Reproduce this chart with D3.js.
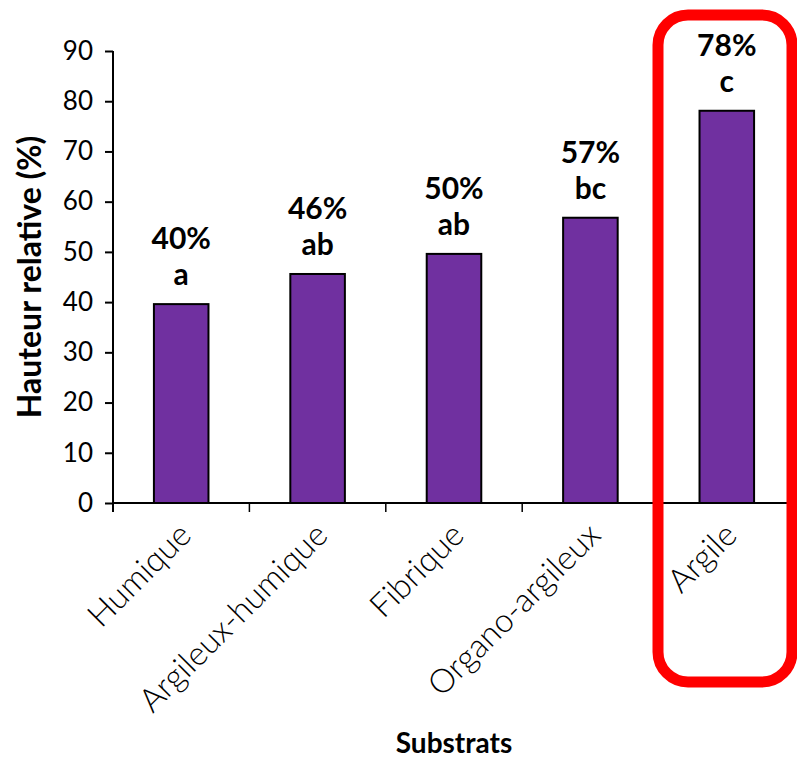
<!DOCTYPE html>
<html>
<head>
<meta charset="utf-8">
<script src="https://cdn.jsdelivr.net/npm/d3@7"></script>
<style>
  body { margin: 0; background: #fff; }
  svg text { font-family: Lato, "Open Sans", sans-serif; fill: #000; }
</style>
</head>
<body>
<div id="chart"></div>
<script>
// data
var categories = ["Humique", "Argileux-humique", "Fibrique", "Organo-argileux", "Argile"];
var values = [39.6, 45.6, 49.6, 56.8, 78.1];
var pctLabels = ["40%", "46%", "50%", "57%", "78%"];
var groupLetters = ["a", "ab", "ab", "bc", "c"];
var yTicks = [0, 10, 20, 30, 40, 50, 60, 70, 80, 90];

drawChart("#chart");

function drawChart(sel) {
  var width = 797, height = 762;
  var margin = { left: 113, right: 2, top: 51, bottom: 259 };
  var plotW = width - margin.left - margin.right;
  var plotH = height - margin.top - margin.bottom;

  var svg = d3.select(sel).append("svg")
    .attr("width", width)
    .attr("height", height);

  var x = d3.scaleBand()
    .domain(categories)
    .range([0, plotW])
    .padding(0);

  var y = d3.scaleLinear()
    .domain([0, 90])
    .range([plotH, 0]);

  var g = svg.append("g")
    .attr("transform", "translate(" + margin.left + "," + margin.top + ")");

  var barW = x.bandwidth() * 0.4;

  // bars
  g.selectAll(".bar")
    .data(values)
    .enter()
    .append("rect")
    .attr("class", "bar")
    .attr("x", function(d, i) { return x(categories[i]) + (x.bandwidth() - barW) / 2; })
    .attr("y", function(d) { return y(d); })
    .attr("width", barW)
    .attr("height", function(d) { return plotH - y(d); })
    .attr("fill", "#7030a0")
    .attr("stroke", "#000")
    .attr("stroke-width", 2);

  // y axis
  var yAxis = d3.axisLeft(y)
    .tickValues(yTicks)
    .tickSize(8)
    .tickSizeOuter(0)
    .tickPadding(12);

  var ya = g.append("g").call(yAxis);
  ya.select(".domain").remove();
  ya.selectAll(".tick line").attr("stroke", "#000").attr("stroke-width", 2);
  ya.selectAll(".tick text")
    .style("font-size", "26px")
    .style("font-weight", 400);

  // x axis line + ticks at band edges
  var edges = categories.map(function(c) { return x(c); }).concat([plotW]);
  g.append("line")
    .attr("x1", 0).attr("x2", plotW)
    .attr("y1", plotH).attr("y2", plotH)
    .attr("stroke", "#000").attr("stroke-width", 2);
  g.append("line")
    .attr("x1", 0).attr("x2", 0)
    .attr("y1", y(90)).attr("y2", plotH + 9)
    .attr("stroke", "#000").attr("stroke-width", 2);
  g.selectAll(".xtick")
    .data(edges)
    .enter()
    .append("line")
    .attr("class", "xtick")
    .attr("x1", function(d) { return d; })
    .attr("x2", function(d) { return d; })
    .attr("y1", plotH)
    .attr("y2", plotH + 9)
    .attr("stroke", "#000")
    .attr("stroke-width", 1.5);

  // rotated category labels
  g.selectAll(".xlab")
    .data(categories)
    .enter()
    .append("text")
    .attr("class", "xlab")
    .attr("transform", function(d) {
      return "translate(" + (x(d) + x.bandwidth() / 2 + 12) + "," + (plotH + 34) + ") rotate(-45)";
    })
    .attr("text-anchor", "end")
    .style("font-size", "33px")
    .style("font-weight", 300)
    .text(function(d) { return d; });

  // value labels
  g.selectAll(".pct")
    .data(values)
    .enter()
    .append("text")
    .attr("class", "pct")
    .attr("x", function(d, i) { return x(categories[i]) + x.bandwidth() / 2; })
    .attr("y", function(d) { return y(d) - 55; })
    .attr("text-anchor", "middle")
    .style("font-size", "30px")
    .style("font-weight", 700)
    .text(function(d, i) { return pctLabels[i]; });

  g.selectAll(".grp")
    .data(values)
    .enter()
    .append("text")
    .attr("class", "grp")
    .attr("x", function(d, i) { return x(categories[i]) + x.bandwidth() / 2; })
    .attr("y", function(d) { return y(d) - 19; })
    .attr("text-anchor", "middle")
    .style("font-size", "30px")
    .style("font-weight", 700)
    .text(function(d, i) { return groupLetters[i]; });

  // axis titles
  svg.append("text")
    .attr("transform", "translate(41," + (margin.top + plotH / 2) + ") rotate(-90)")
    .attr("text-anchor", "middle")
    .style("font-size", "32px")
    .style("font-weight", 700)
    .text("Hauteur relative (%)");

  svg.append("text")
    .attr("x", margin.left + plotW / 2)
    .attr("y", 753)
    .attr("text-anchor", "middle")
    .style("font-size", "28px")
    .style("font-weight", 700)
    .text("Substrats");

  // red highlight box around the last category
  svg.append("rect")
    .attr("x", 658)
    .attr("y", 15)
    .attr("width", 134)
    .attr("height", 667)
    .attr("rx", 30)
    .attr("fill", "none")
    .attr("stroke", "#ff0000")
    .attr("stroke-width", 11);
}
</script>
</body>
</html>
